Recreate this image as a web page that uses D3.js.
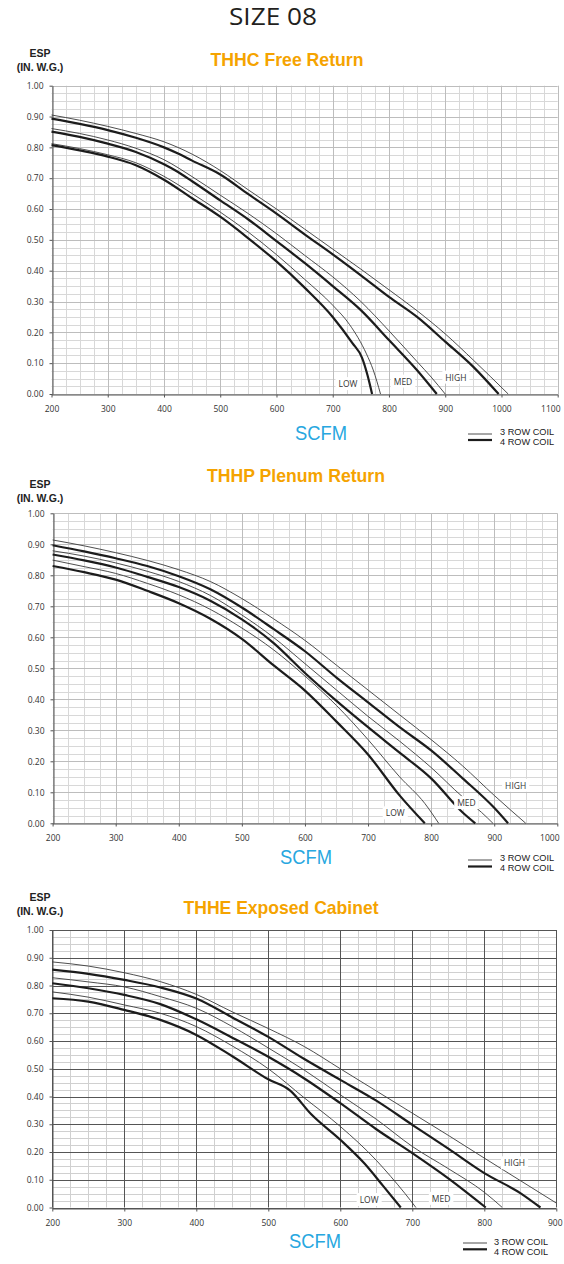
<!DOCTYPE html>
<html><head><meta charset="utf-8">
<script src="https://cdn.jsdelivr.net/npm/d3@7/dist/d3.min.js"></script>
<style>body{margin:0;background:#fff}svg{display:block}</style>
</head><body>
<svg id="c" width="564" height="1264"></svg>
<script>
// ---------- DATA ----------
const pageTitle = "SIZE 08";
const espTicks = [0, 0.1, 0.2, 0.3, 0.4, 0.5, 0.6, 0.7, 0.8, 0.9, 1.0];
const speedNames = ["LOW", "MED", "HIGH"];
const legendNames = ["3 ROW COIL", "4 ROW COIL"];

// Chart 1: THHC Free Return
const freeTitle = "THHC Free Return";
const freeTicks = [200, 300, 400, 500, 600, 700, 800, 900, 1000, 1100];
const freeLow3  = [[200,.812],[250,.796],[300,.776],[350,.75],[400,.706],[450,.65],[500,.59],[550,.525],[600,.452],[650,.372],[700,.288],[730,.225],[760,.13],[772,.078],[785,0]];
const freeLow4  = [[200,.807],[250,.79],[300,.77],[350,.742],[400,.695],[450,.635],[500,.575],[550,.505],[600,.43],[650,.345],[700,.25],[735,.165],[752,.118],[762,.06],[770,0]];
const freeMed3  = [[200,.861],[250,.845],[300,.824],[350,.797],[400,.76],[450,.705],[500,.645],[550,.585],[600,.52],[650,.45],[700,.38],[750,.3],[800,.205],[850,.105],[875,.055],[900,0]];
const freeMed4  = [[200,.851],[250,.834],[300,.812],[350,.785],[400,.745],[425,.72],[450,.69],[500,.628],[550,.566],[600,.496],[650,.425],[700,.35],[750,.272],[800,.175],[850,.077],[885,0]];
const freeHigh3 = [[200,.905],[250,.888],[300,.868],[350,.845],[400,.818],[450,.778],[500,.725],[550,.662],[600,.6],[650,.535],[700,.47],[750,.405],[800,.338],[850,.27],[900,.195],[950,.11],[1012,0]];
const freeHigh4 = [[200,.893],[250,.876],[300,.856],[350,.831],[400,.80],[425,.78],[450,.757],[500,.712],[550,.648],[600,.585],[650,.518],[700,.453],[750,.385],[800,.315],[850,.25],[900,.17],[950,.088],[995,0]];
const freeLabelAt = [[727,.032],[825,.04],[919,.053]];

// Chart 2: THHP Plenum Return
const plenumTitle = "THHP Plenum Return";
const plenumTicks = [200, 300, 400, 500, 600, 700, 800, 900, 1000];
const plenumLow3  = [[200,.849],[250,.828],[300,.806],[350,.774],[400,.737],[450,.69],[500,.63],[550,.56],[600,.475],[650,.38],[700,.27],[750,.15],[790,.064],[812,0]];
const plenumLow4  = [[200,.83],[250,.81],[300,.786],[350,.75],[400,.71],[450,.66],[500,.595],[550,.51],[600,.428],[650,.328],[700,.222],[750,.09],[790,0]];
const plenumMed3  = [[200,.879],[250,.862],[300,.84],[350,.813],[400,.78],[450,.735],[500,.672],[550,.6],[600,.515],[650,.43],[700,.345],[750,.265],[800,.18],[850,.085],[880,.035],[898,0]];
const plenumMed4  = [[200,.867],[250,.848],[300,.825],[350,.795],[400,.762],[450,.718],[500,.658],[550,.582],[600,.485],[650,.395],[700,.31],[750,.228],[800,.145],[850,.035],[870,0]];
const plenumHigh3 = [[200,.914],[250,.895],[300,.873],[350,.848],[400,.818],[450,.78],[500,.725],[550,.66],[600,.59],[650,.51],[700,.43],[750,.35],[800,.27],[850,.185],[900,.09],[950,0]];
const plenumHigh4 = [[200,.897],[250,.877],[300,.855],[350,.83],[400,.797],[450,.755],[500,.696],[550,.627],[600,.555],[650,.47],[700,.39],[750,.31],[800,.235],[850,.145],[900,.05],[922,0]];
const plenumLabelAt = [[743,.032],[856,.065],[934,.121]];

// Chart 3: THHE Exposed Cabinet
const cabinetTitle = "THHE Exposed Cabinet";
const cabinetTicks = [200, 300, 400, 500, 600, 700, 800, 900];
const cabinetLow3  = [[200,.777],[250,.758],[300,.73],[350,.70],[400,.652],[450,.582],[500,.5],[550,.395],[600,.292],[650,.17],[670,.112],[690,.05],[705,0]];
const cabinetLow4  = [[200,.754],[250,.742],[300,.712],[350,.676],[400,.622],[450,.545],[500,.462],[530,.422],[560,.335],[600,.244],[633,.16],[660,.076],[684,0]];
const cabinetMed3  = [[200,.828],[250,.813],[300,.795],[350,.76],[400,.718],[450,.652],[500,.575],[550,.495],[600,.406],[650,.318],[700,.22],[750,.14],[800,.055],[825,0]];
const cabinetMed4  = [[200,.808],[250,.79],[300,.766],[350,.733],[400,.678],[450,.612],[500,.543],[550,.465],[600,.376],[650,.282],[700,.196],[750,.105],[802,0]];
const cabinetHigh3 = [[200,.885],[250,.87],[300,.846],[350,.814],[400,.768],[450,.705],[500,.645],[550,.58],[600,.5],[650,.42],[700,.34],[750,.26],[800,.178],[850,.097],[900,.016]];
const cabinetHigh4 = [[200,.857],[250,.842],[300,.82],[350,.793],[400,.753],[450,.685],[500,.615],[550,.535],[600,.46],[650,.385],[700,.298],[750,.212],[800,.124],[850,.052],[878,0]];
const cabinetLabelAt = [[640,.027],[740,.031],[842,.159]];

// ---------- DRAWING ----------
const svg = d3.select("#c");
const ORANGE = "#F5A300", BLUE = "#27A7DF";

svg.append("text").attr("x", 273).attr("y", 25).attr("text-anchor", "middle")
  .attr("font-family", "'Open Sans','Noto Sans',sans-serif").attr("font-size", 24)
  .attr("fill", "#231f20").attr("textLength", 88).attr("lengthAdjust", "spacingAndGlyphs")
  .text(pageTitle);

function drawChart(cfg, curves3, curves4, labelAt) {
  const g = svg.append("g");
  const x = d3.scaleLinear().domain([cfg.xmin, cfg.xmax]).range([cfg.left, cfg.right]);
  const y = d3.scaleLinear().domain([0, 1]).range([cfg.bottom, cfg.top]);
  const px = v => Math.round(x(v)) + 0.5;
  const py = v => Math.round(y(v)) + 0.5;

  // grid
  const minorX = d3.range(cfg.xmin, cfg.xmax + 1, 25);
  const minorY = d3.range(0, 41).map(i => i * 0.025);
  const isMajX = v => v % 100 === 0;
  const isMajY = v => Math.abs(v * 10 - Math.round(v * 10)) < 1e-6;
  const grid = g.append("g");
  grid.selectAll("line.vx").data(minorX.filter(v => !isMajX(v))).join("line")
    .attr("x1", px).attr("x2", px).attr("y1", y(0)).attr("y2", y(1))
    .attr("stroke", cfg.minor).attr("stroke-width", 1);
  grid.selectAll("line.hy").data(minorY.filter(v => !isMajY(v))).join("line")
    .attr("y1", py).attr("y2", py).attr("x1", x(cfg.xmin)).attr("x2", x(cfg.xmax))
    .attr("stroke", cfg.minor).attr("stroke-width", 1);
  const g2 = g.append("g");
  g2.selectAll("line").data(minorX.filter(isMajX)).join("line")
    .attr("x1", px).attr("x2", px).attr("y1", y(0)).attr("y2", y(1))
    .attr("stroke", cfg.major).attr("stroke-width", 1);
  const g3 = g.append("g");
  g3.selectAll("line").data(minorY.filter(isMajY)).join("line")
    .attr("y1", py).attr("y2", py).attr("x1", x(cfg.xmin)).attr("x2", x(cfg.xmax))
    .attr("stroke", cfg.major).attr("stroke-width", 1);

  // axes
  const ax = g.append("g").attr("transform", `translate(${Math.round(x(cfg.xmin)) + 0.5},0)`)
    .call(d3.axisLeft(y).tickValues(espTicks).tickFormat(d3.format(".2f")).tickSize(3).tickSizeOuter(0).tickPadding(6));
  const bx = g.append("g").attr("transform", `translate(0,${Math.round(y(0)) + 0.5})`)
    .call(d3.axisBottom(x).tickValues(cfg.ticks).tickFormat(d3.format("d")).tickSize(3).tickSizeOuter(0).tickPadding(cfg.tickPad));
  [ax, bx].forEach(a => {
    a.select(".domain").attr("stroke", "#555");
    a.selectAll(".tick line").attr("stroke", "#555");
    a.selectAll("text").attr("font-family", "'Open Sans','Noto Sans',sans-serif")
      .attr("font-size", 8.5).attr("fill", "#333");
  });
  // keep the last x label inside the page
  bx.selectAll(".tick").filter(d => d === cfg.xmax).select("text")
    .attr("text-anchor", "end").attr("x", cfg.lastLabelEnd - x(cfg.xmax));

  // curves
  const line = d3.line().x(d => x(d[0])).y(d => y(d[1])).curve(d3.curveMonotoneX);
  const cg = g.append("g");
  cg.selectAll("path.t").data(curves3).join("path").attr("d", line)
    .attr("fill", "none").attr("stroke", "#3a3a3a").attr("stroke-width", 0.9);
  cg.selectAll("path.k").data(curves4).join("path").attr("d", line)
    .attr("fill", "none").attr("stroke", "#1c1c1c").attr("stroke-width", 2.2);

  // speed labels with white background
  const lg = g.append("g");
  labelAt.forEach((p, i) => {
    const t = lg.append("text").attr("x", x(p[0])).attr("y", y(p[1]))
      .attr("text-anchor", "middle").attr("dy", "0.35em")
      .attr("font-family", "'Open Sans','Noto Sans',sans-serif").attr("font-size", 8.5)
      .attr("fill", "#333").text(speedNames[i]);
    const b = t.node().getBBox();
    lg.insert("rect", "text").attr("x", b.x - 3).attr("y", b.y - 1)
      .attr("width", b.width + 6).attr("height", b.height + 2).attr("fill", "#fff");
  });

  // titles
  g.append("text").attr("x", 40).attr("y", cfg.espY).attr("text-anchor", "middle")
    .attr("font-family", "'Liberation Sans',Arial,sans-serif").attr("font-weight", "bold")
    .attr("font-size", 10.5).attr("fill", "#222").text("ESP");
  g.append("text").attr("x", 40).attr("y", cfg.espY + 14).attr("text-anchor", "middle")
    .attr("font-family", "'Liberation Sans',Arial,sans-serif").attr("font-weight", "bold")
    .attr("font-size", 10.5).attr("fill", "#222").text("(IN. W.G.)");
  g.append("text").attr("x", cfg.titleX).attr("y", cfg.titleY).attr("text-anchor", "middle")
    .attr("font-family", "'Liberation Sans Narrow','Liberation Sans',Arial,sans-serif").attr("font-weight", "bold")
    .attr("font-size", 19).attr("fill", ORANGE)
    .attr("textLength", cfg.titleW).attr("lengthAdjust", "spacingAndGlyphs").text(cfg.title);
  g.append("text").attr("x", cfg.scfmX).attr("y", cfg.scfmY).attr("text-anchor", "middle")
    .attr("font-family", "'Liberation Sans',Arial,sans-serif")
    .attr("font-size", 20).attr("fill", BLUE)
    .attr("textLength", 52).attr("lengthAdjust", "spacingAndGlyphs").text("SCFM");

  // legend
  const L = cfg.legend;
  g.append("line").attr("x1", L.x0).attr("x2", L.x1).attr("y1", L.y1).attr("y2", L.y1)
    .attr("stroke", "#3a3a3a").attr("stroke-width", 0.9);
  g.append("line").attr("x1", L.x0).attr("x2", L.x1).attr("y1", L.y2).attr("y2", L.y2)
    .attr("stroke", "#1c1c1c").attr("stroke-width", 2.2);
  legendNames.forEach((n, i) => {
    g.append("text").attr("x", L.tx).attr("y", (i === 0 ? L.t1 : L.t2)).attr("dy", "0.35em")
      .attr("font-family", "'Liberation Sans',Arial,sans-serif").attr("font-size", 9.2)
      .attr("fill", "#222").text(n);
  });
}

drawChart({
  xmin: 200, xmax: 1100, left: 51.5, right: 557.7, top: 85.7, bottom: 394,
  ticks: freeTicks, tickPad: 8, minor: "#d8d8d8", major: "#bdbdbd", lastLabelEnd: 560,
  espY: 57, title: freeTitle, titleX: 287, titleY: 66, titleW: 153,
  scfmX: 321, scfmY: 440,
  legend: { x0: 468, x1: 492, y1: 434, y2: 440, tx: 500, t1: 432, t2: 442 }
}, [freeLow3, freeMed3, freeHigh3], [freeLow4, freeMed4, freeHigh4], freeLabelAt);

drawChart({
  xmin: 200, xmax: 1000, left: 52.6, right: 557.3, top: 513.3, bottom: 823.3,
  ticks: plenumTicks, tickPad: 8, minor: "#d8d8d8", major: "#bdbdbd", lastLabelEnd: 559,
  espY: 488, title: plenumTitle, titleX: 296, titleY: 482, titleW: 178,
  scfmX: 306, scfmY: 864,
  legend: { x0: 468, x1: 492, y1: 860, y2: 866.5, tx: 500, t1: 858, t2: 868 }
}, [plenumLow3, plenumMed3, plenumHigh3], [plenumLow4, plenumMed4, plenumHigh4], plenumLabelAt);

drawChart({
  xmin: 200, xmax: 900, left: 52.3, right: 556.3, top: 930, bottom: 1207.5,
  ticks: cabinetTicks, tickPad: 8, minor: "#d0d0d0", major: "#555555", lastLabelEnd: 562,
  espY: 901, title: cabinetTitle, titleX: 281, titleY: 914, titleW: 195,
  scfmX: 315, scfmY: 1248,
  legend: { x0: 463, x1: 487, y1: 1243, y2: 1249.3, tx: 494, t1: 1241.7, t2: 1251.7 }
}, [cabinetLow3, cabinetMed3, cabinetHigh3], [cabinetLow4, cabinetMed4, cabinetHigh4], cabinetLabelAt);
</script>
</body></html>
